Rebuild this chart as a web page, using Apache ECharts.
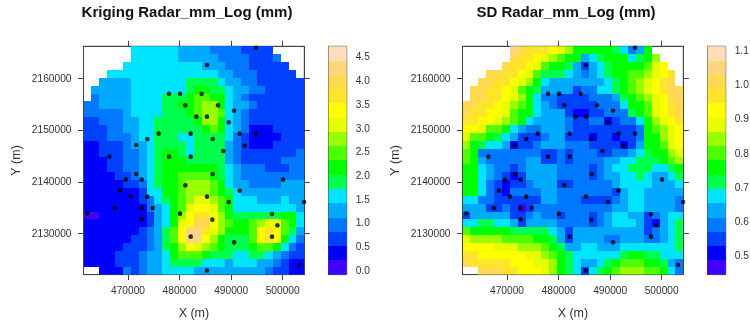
<!DOCTYPE html>
<html><head><meta charset="utf-8">
<style>html,body{margin:0;padding:0;background:#fff}#c{width:750px;height:321px}</style>
<script src="https://cdn.jsdelivr.net/npm/echarts@6/dist/echarts.min.js"></script>
</head><body><div id="c"></div>
<script>
const bandColors=['#4000FF','#0000FF','#0040FF','#0078FF','#00AAFF','#00E5FF','#00FF4D','#00FF00','#4DFF00','#99FF00','#E6FF00','#FFFF00','#FFE52A','#FFD950','#FFD580','#FFDDB8'];
const krigingBands=[
"......555555444433332222....",
"......5555554444433332223...",
".....555555555544433322222..",
"...555555555555554433322222.",
"..44445555555666654433222222",
".444445555555677665443322222",
".344445555666788775432222222",
"3344445555667789975443222222",
"3333345555666789985432222222",
"2233344556666679975432222222",
"2223344556666667875431112222",
"2223334556665566665321111222",
"1122234456666566664321112222",
"1122233456776566664322222223",
"1112233456777666664322222333",
"1112233456777777765433322233",
"1111223456778888765433333333",
"1111122356778999875443333444",
"1111111255778999876544444444",
"11111112356789AA987555444544",
"1111111134578ABBA87555555554",
"0011111124579BCCB97666666775",
"111111112457ABDDB987789AA875",
"111111123468BEECA97778BCB864",
"111111223468BEEB976668BCB753",
"1111122234679BA9876667887532",
"1111222344578887666556654322",
"1111222344566665554555443211",
"..11132344555544444444432211"];
const sdBands=[
"......EDCCCBA97777765347....",
"......DCCBA98774567775679...",
".....DCCBA87764245677778AB..",
"...DDCCBA866654345677889ABC.",
"..DDCCBA975444444456789ABCD.",
".DDCCBA8764444233556789ABCDD",
".DDCCBA97533222233346789ABDD",
"DDCCBA987543222223335778ABCD",
"DCCBBA877544421122333678ABCD",
"CCBBA98754444322331233579ABC",
"BBA88754334443222222223789AB",
"A8876542223442221221223779AB",
"97655412234443332222124778AB",
"873333333322323332233456779A",
"8743333344223233334455666789",
"7754332344443333234556665567",
"7754321244443333234455654456",
"7753212234442233333455554445",
"7753213333443333333245544444",
"5533222222443332222345544443",
"4442232023333333333445544443",
"2444442234332333234554423455",
"5566554244443333234555421456",
"8777776666654244444444423456",
"A999988887764244443344433456",
"BBBBAAA999876445544455555556",
"CCBBBBBBAA987655555567766555",
"DCCCCCBBBAA97654456788877643",
"..DDDCCBBBA97652567899988753"];
const stationX=[494830,485320,477950,480090,484290,481120,487460,490560,483260,485320,489530,475950,482160,491660,494830,473750,486420,471620,492630,488490,466380,477950,482160,471620,486420,469550,472650,500070,481120,468450,491660,470580,473750,485320,489530,504150,467480,472650,474790,462110,480090,497930,472650,486360,498970,482160,497930,490560,503170,485320];
const stationY=[2166000,2162640,2157100,2157100,2157100,2154840,2154840,2153810,2152650,2152650,2151550,2149360,2149360,2149360,2149360,2148330,2148330,2147160,2147040,2146000,2144910,2144910,2144910,2141550,2141550,2140460,2140460,2140460,2139360,2138330,2138330,2137170,2137170,2137170,2136140,2136140,2134970,2134970,2134970,2133940,2133880,2133810,2132780,2132720,2131620,2129430,2129430,2128330,2123940,2122850];
const xTicks=[470000,480000,490000,500000];
const yTicks=[2130000,2140000,2150000,2160000];
const krigingLegendTicks=[0,0.5,1,1.5,2,2.5,3,3.5,4,4.5];
const sdLegendTicks=[0.5,0.6,0.7,0.8,0.9,1.0,1.1];
const xRange=[461370,504190], yRange=[2122085,2166270];
const krigingScale=[-0.08,4.74], sdScale=[0.447,1.114];
const titles=['Kriging Radar_mm_Log (mm)','SD Radar_mm_Log (mm)'];

const FONT='"Liberation Sans",Arial,sans-serif', INK='#333', LINE='#444';
const dx=(xRange[1]-xRange[0])/28, dy=(yRange[1]-yRange[0])/29;
const cells=rows=>{const o=[];rows.forEach((r,j)=>{[...r].forEach((c,i)=>{if(c!=='.')o.push([xRange[0]+(i+.5)*dx,yRange[1]-(j+.5)*dy,parseInt(c,16)]);});});return o;};
const cellItem=(p,api)=>{
  const x=api.value(0),y=api.value(1),c=api.value(2);
  const a=api.coord([x-dx/2,y+dy/2]),b=api.coord([x+dx/2,y-dy/2]);
  const l=Math.round(a[0]),t=Math.round(a[1]),r=Math.round(b[0]),u=Math.round(b[1]);
  return {type:'rect',shape:{x:l,y:t,width:r-l,height:u-t},style:{fill:bandColors[c]}};
};
const legendItem=(p,api)=>{
  const a=api.coord([0,api.value(1)]),b=api.coord([1,api.value(0)]);
  const t=Math.round(a[1]),u=Math.round(b[1]);
  return {type:'rect',shape:{x:a[0],y:t,width:b[0]-a[0],height:u-t},style:{fill:bandColors[api.value(2)]}};
};
const lbl=(v,m)=>({show:v,color:INK,fontFamily:FONT,fontSize:10.2,margin:m,hideOverlap:false});
const tickOf=vals=>({show:true,length:5.5,inside:false,lineStyle:{color:LINE,width:1},customValues:vals});

const grids=[],xAxes=[],yAxes=[],series=[];
const plotLefts=[83.5,462.5], legendLefts=[328.5,707.5];
[krigingBands,sdBands].forEach((rows,k)=>{
  const g=grids.length;
  grids.push({left:plotLefts[k],top:46.3,width:220.8,height:228.3,show:true,borderColor:LINE,borderWidth:1,outerBoundsMode:'none'});
  const xi=xAxes.length, yi=yAxes.length;
  ['bottom','top'].forEach((pos,n)=>xAxes.push({type:'value',gridIndex:g,position:pos,min:xRange[0],max:xRange[1],splitLine:{show:false},axisLine:{show:true,lineStyle:{color:LINE}},axisTick:tickOf(xTicks),
    axisLabel:Object.assign(lbl(n===0,12),{customValues:xTicks,formatter:v=>String(v)}),
    name:n===0?'X (m)':'',nameLocation:'middle',nameGap:32,nameTextStyle:{color:INK,fontFamily:FONT,fontSize:12.5}}));
  ['left','right'].forEach((pos,n)=>yAxes.push({type:'value',gridIndex:g,position:pos,min:yRange[0],max:yRange[1],splitLine:{show:false},axisLine:{show:true,lineStyle:{color:LINE}},axisTick:tickOf(yTicks),
    axisLabel:Object.assign(lbl(n===0,12),{customValues:yTicks,formatter:v=>String(v)}),
    name:n===0?'Y (m)':'',nameLocation:'middle',nameGap:60,nameRotate:90,nameTextStyle:{color:INK,fontFamily:FONT,fontSize:12.5}}));
  series.push({type:'custom',coordinateSystem:'cartesian2d',xAxisIndex:xi,yAxisIndex:yi,data:cells(rows),encode:{x:0,y:1},renderItem:cellItem,clip:true,silent:true,z:2});
  series.push({type:'scatter',xAxisIndex:xi,yAxisIndex:yi,data:stationX.map((x,i)=>[x,stationY[i]]),symbol:'circle',symbolSize:4.6,itemStyle:{color:'#000'},clip:true,silent:true,z:5});
});
[[krigingScale,krigingLegendTicks],[sdScale,sdLegendTicks]].forEach(([sc,ticks],k)=>{
  const g=grids.length;
  grids.push({left:legendLefts[k],top:46.3,width:18.2,height:228.3,show:true,borderColor:LINE,borderWidth:1,outerBoundsMode:'none'});
  const xi=xAxes.length, yi=yAxes.length;
  xAxes.push({type:'value',gridIndex:g,min:0,max:1,show:false});
  yAxes.push({type:'value',gridIndex:g,position:'right',min:sc[0],max:sc[1],splitLine:{show:false},axisLine:{show:true,lineStyle:{color:LINE}},axisTick:tickOf(ticks),
    axisLabel:Object.assign(lbl(true,9),{customValues:ticks,formatter:v=>v.toFixed(1)})});
  const step=(sc[1]-sc[0])/bandColors.length;
  series.push({type:'custom',coordinateSystem:'cartesian2d',xAxisIndex:xi,yAxisIndex:yi,data:bandColors.map((c,i)=>[sc[0]+i*step,sc[0]+(i+1)*step,i]),encode:{y:[0,1]},renderItem:legendItem,clip:true,silent:true,z:2});
});
const chart=echarts.init(document.getElementById('c'),null,{renderer:'canvas'});
chart.setOption({animation:false,backgroundColor:'#fff',
  title:titles.map((t,k)=>({text:t,left:[187,566][k],top:5.5,padding:0,textAlign:'center',textStyle:{fontFamily:FONT,fontSize:15,fontWeight:'bold',color:'#111'}})),
  grid:grids,xAxis:xAxes,yAxis:yAxes,series});
</script></body></html>
